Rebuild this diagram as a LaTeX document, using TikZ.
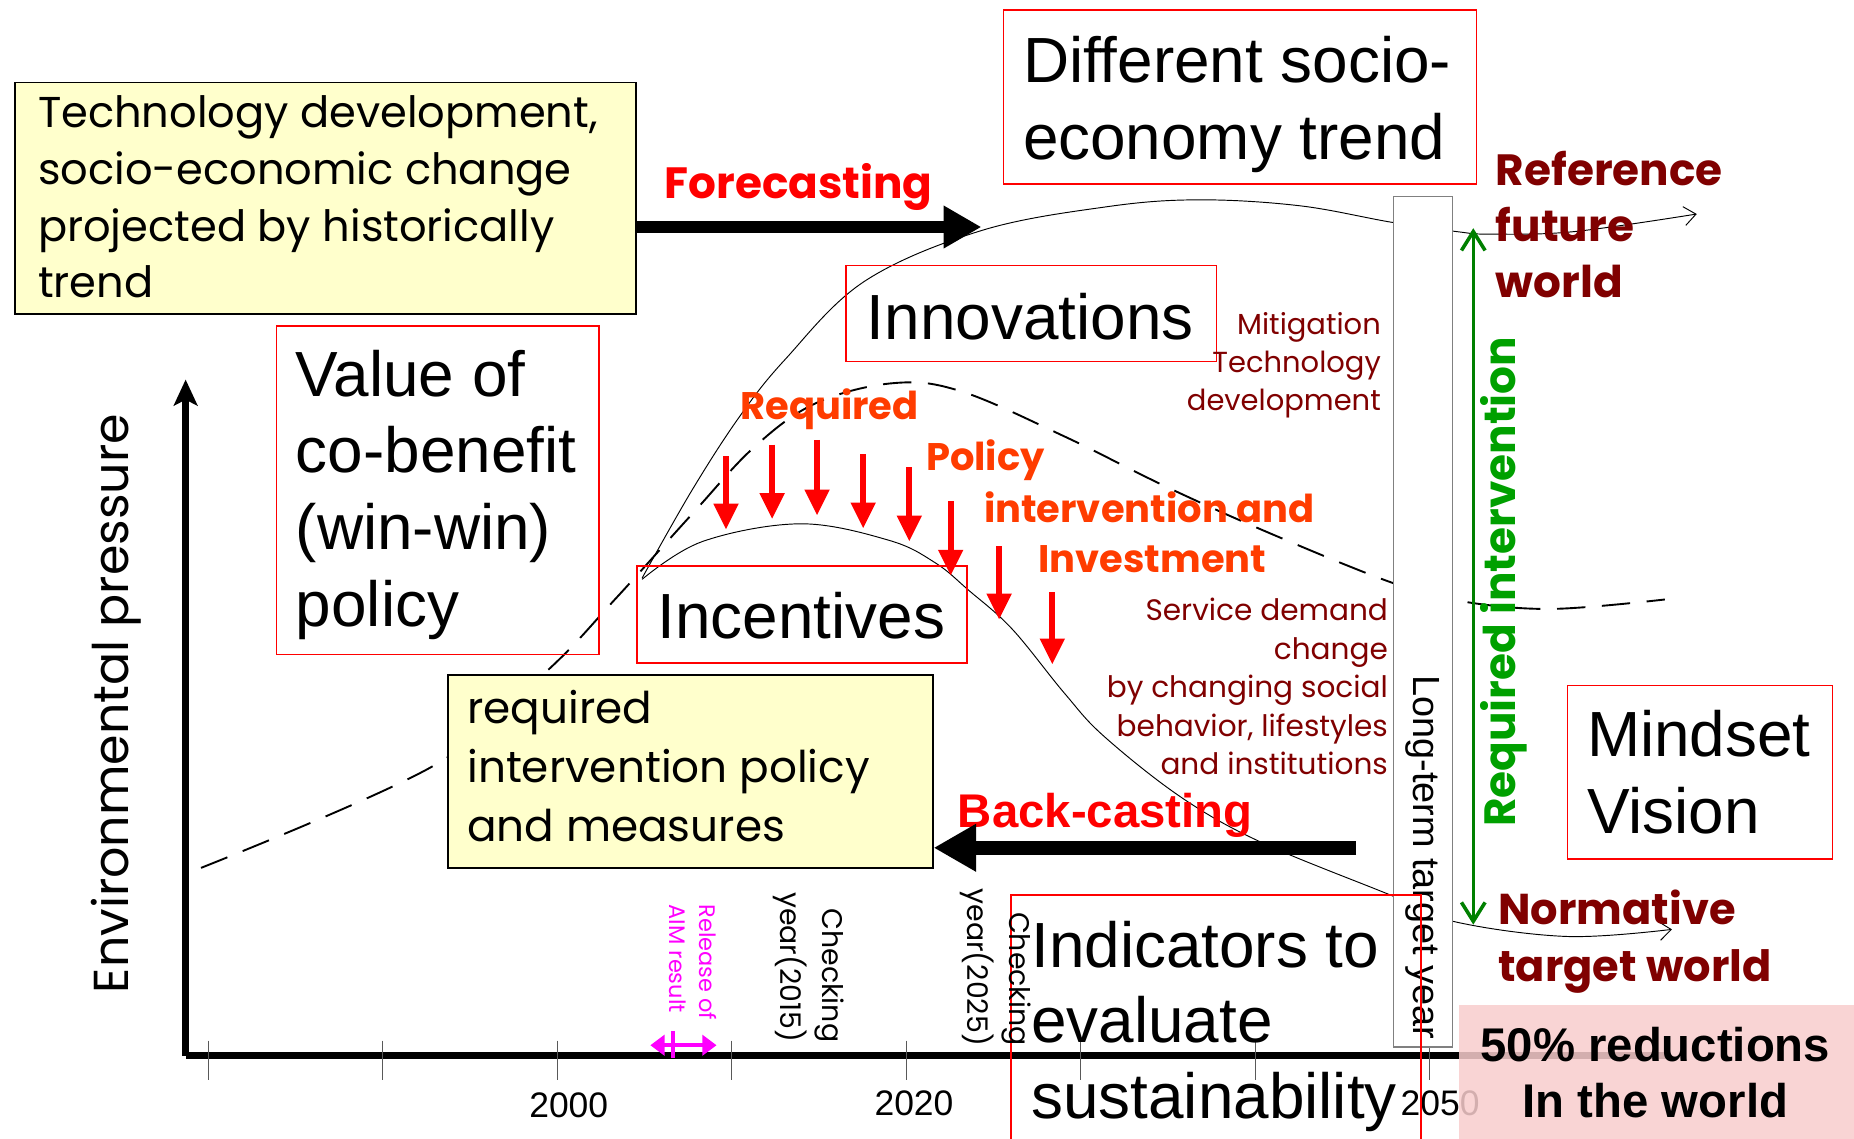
\documentclass[tikz,border=0pt]{standalone}
\usepackage{fontspec}
\setmainfont{Liberation Sans}
\newfontfamily\comic{Poppins}
\usetikzlibrary{arrows.meta}
\definecolor{dred}{RGB}{128,0,0}
\definecolor{ored}{RGB}{255,60,0}
\definecolor{grn}{RGB}{0,128,0}
\definecolor{grntxt}{RGB}{0,160,0}
\definecolor{mag}{RGB}{255,0,255}
\definecolor{ylw}{RGB}{255,255,204}
\definecolor{pnk}{RGB}{248,205,205}
\newcommand\fs[2]{\fontsize{#1pt}{#2pt}\selectfont}
\newcommand\Lvt[1]{\vtop{\halign{##\hfil\cr#1\crcr}}}
\newcommand\Rvt[1]{\vtop{\halign{\hfil##\cr#1\crcr}}}
\newcommand\Cvt[1]{\vtop{\halign{\hfil##\hfil\cr#1\crcr}}}
\begin{document}
\begin{tikzpicture}[x=1pt,y=-1pt,
  every node/.style={inner sep=0pt},
  redbox/.style={draw=red, line width=1.3pt, anchor=north west},
  ylwbox/.style={draw=black, fill=ylw, line width=1.6pt, anchor=north west},
  lt/.style={anchor=base west},
  rt/.style={anchor=base east},
  thincurve/.style={line width=0.8pt},
  dashcurve/.style={line width=1.6pt, dash pattern=on 24pt off 14pt},
  bigarrow/.style={line width=10pt, -{Triangle[length=32pt,width=34pt]}},
  redarrow/.style={red, line width=5pt, -{Triangle[length=22pt,width=20pt]}},
  tickline/.style={gray!70!black, line width=0.8pt},
  barb/.style={-{Straight Barb[length=10pt,width=16pt]}}
]
\useasboundingbox (0,0) rectangle (1568,963);
\fill[white] (0,0) rectangle (1568,963);

% ---------- curves ----------
\draw[dashcurve] plot[smooth, tension=0.6] coordinates {(170,734) (366,648) (462,568) (520,507) (586,434) (638,378) (690,341) (756,324) (813,331) (900,369) (987,412) (1074,451) (1175,492) (1233,508) (1311,515) (1408,507)};
\draw[thincurve, barb] plot[smooth, tension=0.6] coordinates {(543,489) (585,415) (625,353) (664,304) (731,238) (830,195) (935,175) (1013,169) (1099,174) (1177,188) (1233,196) (1260,198) (1330,196) (1435,181)};
\draw[thincurve, barb] plot[smooth, tension=0.6] coordinates {(543,490) (594,458) (677,443) (752,457) (791,476) (819,499) (856,532) (900,586) (934,623) (1000,675) (1068,713) (1176,757) (1228,779) (1325,792) (1414,786)};

% ---------- axes ----------
\coordinate (origin) at (157,893);
\coordinate (ytop) at (157,321);
\coordinate (xend) at (1410,893);
\draw[line width=6pt, -{Stealth[length=22pt,width=20pt,inset=5pt]}] (origin) -- (ytop);
\draw[line width=6pt] (origin) -- (xend);
\foreach \k in {0,...,7} \draw[tickline] ({176+147.6*\k},880) -- ({176+147.6*\k},913);
\node[anchor=base, font=\fs{30}{36}] (y2000) at (481,945) {2000};
\node[anchor=base, font=\fs{30}{36}] (y2020) at (773,943) {2020};
\node[anchor=base, font=\fs{30}{36}] (y2050) at (1218,943) {2050};
\node[rotate=90, font=\comic\fs{41.5}{50}] (envp) at (98,595) {Environmental pressure};

% ---------- top-left yellow box ----------
\node[ylwbox, minimum width=525pt, minimum height=196pt] (hist) at (12,69) {};
\node[lt, font=\comic\fs{36.5}{48}] (histtxt) at (32,108) {\Lvt{Technology development,\cr socio-economic change\cr projected by historically\cr trend}};
\node[lt, font=\comic\bfseries\fs{37}{40}, text=red] (fore) at (562,168) {Forecasting};
\coordinate (foretip) at (830,192);
\draw[bigarrow] (hist.east |- foretip) -- (foretip);

% ---------- boxes ----------
\node[redbox, minimum width=400pt, minimum height=147pt] (diff) at (848,8) {};
\node[lt, font=\fs{54}{65}] (difftxt) at (865,70) {\Lvt{Different socio-\cr economy trend}};
\node[redbox, minimum width=313pt, minimum height=81pt] (innov) at (715,224) {};
\node[lt, font=\fs{54}{65}] (innovtxt) at (733,287) {Innovations};
\node[rt, font=\comic\fs{24.5}{32}, text=dred] (mitig) at (1168,283) {\Rvt{Mitigation\cr Technology\cr development}};

\node[redbox, minimum width=273pt, minimum height=278pt] (cobox) at (233,275) {};
\node[lt, font=\fs{54}{65}] (cotxt) at (250,335) {\Lvt{Value of\cr co-benefit\cr (win-win)\cr policy}};

% required policy arrows
\foreach \x/\a/\b in {614/386/448, 653/376/439, 691/372/436, 730/384/447, 769/395/458, 804/424/487, 845/462/524, 890/501/562}
  \draw[redarrow] (\x,\a) -- (\x,\b);
\node[lt, font=\comic\bfseries\fs{32.5}{40}, text=ored] (req) at (626,355) {Required};
\node[lt, font=\comic\bfseries\fs{32.5}{40}, text=ored] (pol) at (783,398) {Policy};
\node[lt, font=\comic\bfseries\fs{32.5}{40}, text=ored] (intv) at (832,442) {intervention and};
\node[lt, font=\comic\bfseries\fs{32.5}{40}, text=ored] (inv) at (878,484) {Investment};

\node[redbox, minimum width=279pt, minimum height=82pt] (incent) at (538,478) {};
\node[lt, font=\fs{54}{65}] (incenttxt) at (556,540) {Incentives};

\node[rt, font=\comic\fs{25}{32.5}, text=dred] (serv) at (1174,525) {\Rvt{Service demand\cr change\cr by changing social\cr behavior, lifestyles\cr and institutions}};

\node[ylwbox, minimum width=410pt, minimum height=163pt] (reqbox) at (378,570) {};
\node[lt, font=\comic\fs{37}{50}] (reqtxt) at (395,612) {\Lvt{required\cr intervention policy\cr and measures}};

\node[lt, font=\bfseries\fs{40}{46}, text=red] (back) at (810,700) {Back-casting};
\coordinate (backstart) at (1147,717);
\draw[line width=12pt, -{Triangle[length=36pt,width=38pt]}] (backstart) -- (reqbox.east |- backstart);

% long-term target year
\node[draw=gray, fill=white, line width=1pt, minimum width=50pt, minimum height=719pt, anchor=north west] (ltbox) at (1178,166) {};
\node[rotate=-90, font=\fs{32}{38}] (lttxt) at (1203,725) {Long-term target year};

% indicators box (open at bottom)
\coordinate (indtl) at (855,757);
\coordinate (indtr) at (1202,757);
\draw[red, line width=1.3pt] (855,975) -- (indtl) -- (indtr) -- (1202,975);
\node[lt, font=\fs{54}{64}] (indtxt) at (872,818) {\Lvt{Indicators to\cr evaluate\cr sustainability}};

% vertical small labels
\node[rotate=-90, align=left, font=\comic\fs{19}{26}, text=mag] (aim) at (586,814) {Release of\\AIM result};
\draw[mag, line width=3.5pt, {Triangle[length=12pt,width=17pt]}-{Triangle[length=12pt,width=17pt]}] (550,884) -- (606,884);
\draw[mag, line width=3pt] (569,872) -- (569,895);
\node[rotate=-90, align=right, font=\comic\fs{24}{36}] (chk15) at (684,818) {Checking\\year(2015)};
\node[rotate=-90, align=right, font=\comic\fs{24}{36}] (chk25) at (842,818) {Checking\\year(2025)};

% right side
\coordinate (gtop) at (1246,193);
\coordinate (gbot) at (1246,782);
\draw[grn, line width=3pt, {Straight Barb[length=16pt,width=20pt]}-{Straight Barb[length=16pt,width=20pt]}] (gbot) -- (gtop);
\node[rotate=90, font=\comic\bfseries\fs{37}{40}, text=grntxt] (reqint) at (1272,492) {Required intervention};
\node[lt, font=\comic\bfseries\fs{37}{47.5}, text=dred] (reffw) at (1265,157) {\Lvt{Reference\cr future\cr world}};
\node[redbox, minimum width=224pt, minimum height=147pt] (mind) at (1325,579) {};
\node[lt, font=\fs{54}{65}] (mindtxt) at (1342,640) {\Lvt{Mindset\cr Vision}};
\node[lt, font=\comic\bfseries\fs{36.5}{48}, text=dred] (normtw) at (1267,782) {\Lvt{Normative\cr target world}};

\node[fill=pnk, fill opacity=0.85, minimum width=334pt, minimum height=113pt, anchor=north west] (fifty) at (1234,850) {};
\node[anchor=base, font=\bfseries\fs{40}{47}] (fiftytxt) at (1400,898) {\Cvt{50\% reductions\cr In the world}};
\end{tikzpicture}
\end{document}
